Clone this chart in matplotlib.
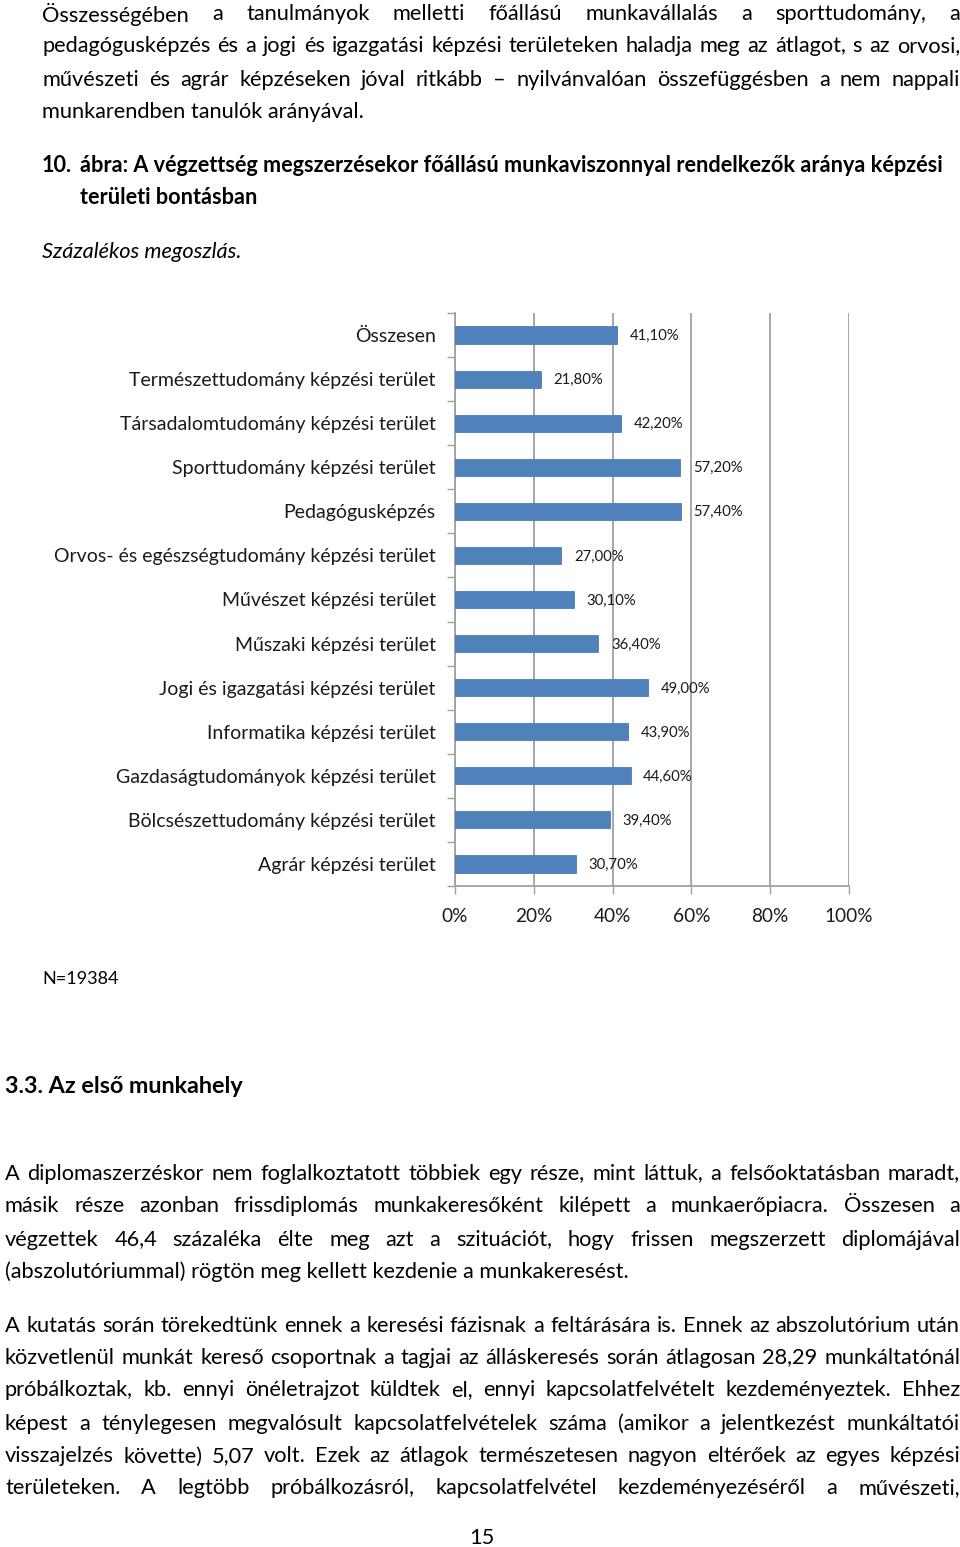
import matplotlib
matplotlib.use("Agg")
import matplotlib.pyplot as plt
from matplotlib.ticker import FixedLocator, NullFormatter

plt.rcParams['font.family'] = ['Lato', 'DejaVu Sans']

# chart data
categories = [
    "Összesen",
    "Természettudomány képzési terület",
    "Társadalomtudomány képzési terület",
    "Sporttudomány képzési terület",
    "Pedagógusképzés",
    "Orvos- és egészségtudomány képzési terület",
    "Művészet képzési terület",
    "Műszaki képzési terület",
    "Jogi és igazgatási képzési terület",
    "Informatika képzési terület",
    "Gazdaságtudományok képzési terület",
    "Bölcsészettudomány képzési terület",
    "Agrár képzési terület",
]
values = [41.1, 21.8, 42.2, 57.2, 57.4, 27.0, 30.1, 36.4, 49.0, 43.9, 44.6, 39.4, 30.7]
x_ticks = [0, 20, 40, 60, 80, 100]
x_tick_labels = ["0%", "20%", "40%", "60%", "80%", "100%"]
n_note = "N=19384"

# page text
para1 = [
    "Összességében a tanulmányok melletti főállású munkavállalás a sporttudomány, a",
    "pedagógusképzés és a jogi és igazgatási képzési területeken haladja meg az átlagot, s az orvosi,",
    "művészeti és agrár képzéseken jóval ritkább – nyilvánvalóan összefüggésben a nem nappali",
    "munkarendben tanulók arányával.",
]
caption_num = "10."
caption = ["ábra: A végzettség megszerzésekor főállású munkaviszonnyal rendelkezők aránya képzési",
           "területi bontásban"]
subtitle = "Százalékos megoszlás."
heading = "3.3. Az első munkahely"
para2 = [
    "A diplomaszerzéskor nem foglalkoztatott többiek egy része, mint láttuk, a felsőoktatásban maradt,",
    "másik része azonban frissdiplomás munkakeresőként kilépett a munkaerőpiacra. Összesen a",
    "végzettek 46,4 százaléka élte meg azt a szituációt, hogy frissen megszerzett diplomájával",
    "(abszolutóriummal) rögtön meg kellett kezdenie a munkakeresést.",
]
para3 = [
    "A kutatás során törekedtünk ennek a keresési fázisnak a feltárására is. Ennek az abszolutórium után",
    "közvetlenül munkát kereső csoportnak a tagjai az álláskeresés során átlagosan 28,29 munkáltatónál",
    "próbálkoztak, kb. ennyi önéletrajzot küldtek el, ennyi kapcsolatfelvételt kezdeményeztek. Ehhez",
    "képest a ténylegesen megvalósult kapcsolatfelvételek száma (amikor a jelentkezést munkáltatói",
    "visszajelzés követte) 5,07 volt. Ezek az átlagok természetesen nagyon eltérőek az egyes képzési",
    "területeken. A legtöbb próbálkozásról, kapcsolatfelvétel kezdeményezéséről a művészeti,",
]
page_no = "15"

W, H = 960, 1547
fig = plt.figure(figsize=(W / 100, H / 100), dpi=100)
page = fig.add_axes([0, 0, 1, 1])
page.set_xlim(0, W)
page.set_ylim(H, 0)
page.axis('off')
renderer = fig.canvas.get_renderer()


def text_width(s, **kw):
    t = page.text(0, 0, s, **kw)
    w = t.get_window_extent(renderer).width
    t.remove()
    return w


def fit_size(s, target, **kw):
    return 10 * target / text_width(s, fontsize=10, **kw)


def justify(line, x0, x1, y, **kw):
    words = line.split(" ")
    widths = [text_width(w, **kw) for w in words]
    gap = (x1 - x0 - sum(widths)) / (len(words) - 1)
    x = x0
    for w, wd in zip(words, widths):
        page.text(x, y, w, va='center', ha='left', **kw)
        x += wd + gap


def paragraph(lines, x0, x1, ys, last_justified=False, **kw):
    for i, (line, y) in enumerate(zip(lines, ys)):
        if i == len(lines) - 1 and not last_justified:
            page.text(x0, y, line, va='center', ha='left', **kw)
        else:
            justify(line, x0, x1, y, **kw)


body = dict(fontsize=fit_size(para1[3], 323), color='black')
bold = dict(fontsize=fit_size(caption[0], 860, fontweight='bold'), fontweight='bold', color='black')
dy = 1.5

paragraph(para1, 42, 960, [13 + dy, 45 + dy, 78 + dy, 110 + dy], **body)
page.text(42, 164 + dy, caption_num, va='center', ha='left', **bold)
page.text(80, 164 + dy, caption[0], va='center', ha='left', **bold)
page.text(80, 196 + dy, caption[1], va='center', ha='left', **bold)
page.text(42, 250 + dy, subtitle, va='center', ha='left', fontstyle='italic', **body)

page.text(42, 978 + dy, n_note, va='center', ha='left', fontsize=fit_size(n_note, 76), color='black')
page.text(5, 1085 + dy, heading, va='center', ha='left', fontweight='bold',
          fontsize=fit_size(heading, 239, fontweight='bold'), color='black')
paragraph(para2, 5, 960, [1172 + dy, 1205 + dy, 1238 + dy, 1270 + dy], **body)
paragraph(para3, 5, 960, [1324 + dy, 1356 + dy, 1389 + dy, 1422 + dy, 1455 + dy, 1487 + dy],
          last_justified=True, **body)
page.text(482, 1537 + dy, page_no, va='center', ha='center', **body)

# chart axes: 0% at x=455, 100% at x=849, top 313, bottom 886
ax_l, ax_r, ax_t, ax_b = 455, 849, 313, 886
ax = fig.add_axes([ax_l / W, 1 - ax_b / H, (ax_r - ax_l) / W, (ax_b - ax_t) / H])
ypos = list(range(len(categories)))
ax.barh(ypos, values, height=0.39, color='#4F81BD', edgecolor='#4A7EBB', linewidth=0.6, zorder=3)
for y, v in zip(ypos, values):
    ax.annotate(f"{v:.2f}".replace(".", ",") + "%", xy=(v, y), xytext=(9, -0.7),
                textcoords='offset points', va='center', ha='left',
                fontsize=10.7, color='#1a1a1a', zorder=4)

ax.set_xlim(0, 100)
ax.set_ylim(len(categories) - 0.5, -0.5)
ax.set_xticks(x_ticks)
ax.set_xticklabels(x_tick_labels)
ax.set_yticks(ypos)
ax.set_yticklabels(categories)
ax.yaxis.set_minor_locator(FixedLocator([i - 0.5 for i in range(len(categories) + 1)]))
ax.yaxis.set_minor_formatter(NullFormatter())
ax.tick_params(axis='y', which='major', length=0, pad=14, labelsize=14, labelcolor='#1a1a1a')
ax.tick_params(axis='y', which='minor', length=6, width=1, color='#A0A0A0', direction='out')
ax.tick_params(axis='x', which='major', length=6, width=1, color='#A0A0A0', direction='out',
               pad=10, labelsize=13.7, labelcolor='#1a1a1a')
ax.grid(axis='x', color='#A0A0A0', linewidth=1.3, zorder=0)
for side in ['top', 'right']:
    ax.spines[side].set_visible(False)
for side in ['left', 'bottom']:
    ax.spines[side].set_color('#A0A0A0')
    ax.spines[side].set_linewidth(1.3)

fig.savefig("out.png", dpi=100)
